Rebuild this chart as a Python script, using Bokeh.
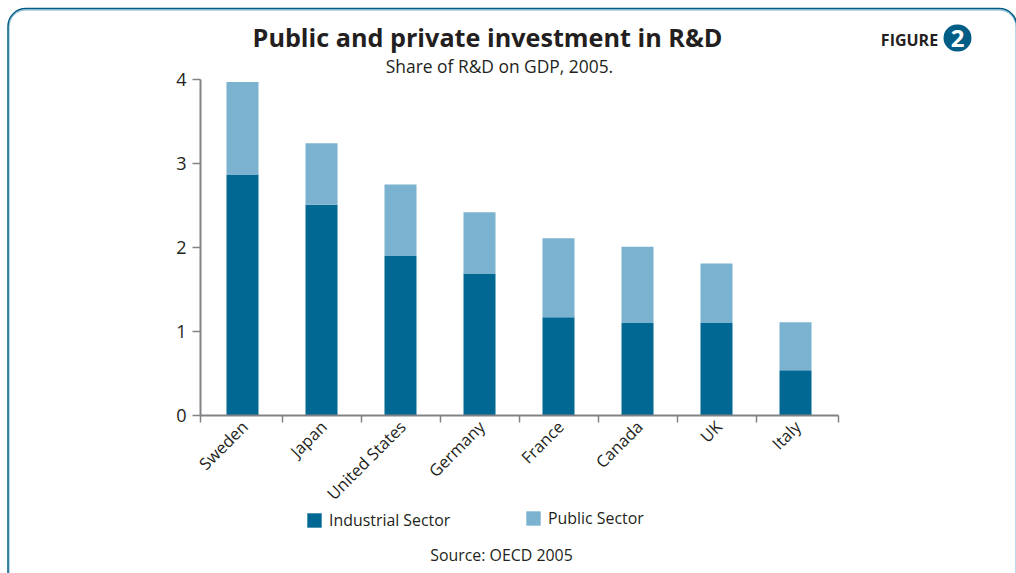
from math import pi

from bokeh.embed import file_html
from bokeh.models import (BoxAnnotation, ColumnDataSource, FixedTicker, Label,
                          Legend, LegendItem, LinearAxis, Range1d)
from bokeh.plotting import figure
from bokeh.resources import INLINE

# Share of R&D on GDP, 2005, by funding sector
countries = ["Sweden", "Japan", "United States", "Germany", "France", "Canada", "UK", "Italy"]
industrial = [2.87, 2.51, 1.90, 1.69, 1.17, 1.10, 1.10, 0.54]
public = [1.10, 0.73, 0.85, 0.73, 0.94, 0.91, 0.71, 0.57]
y_ticks = [0, 1, 2, 3, 4]

DARK = "#006892"
LIGHT = "#7bb2d0"
NAVY = "#005d85"
INK = "#231f20"
AXIS = "#808285"
FONT = "Open Sans"

W, H = 1016, 573

# The plotting frame fills the page; axes are pinned inside it at fixed data positions.
PX_PER_CATEGORY = 79
PX_PER_UNIT = 84
ORIGIN_X, ORIGIN_Y = 202.5, 415
X_START, X_END = -0.032, 8.044
LABEL_NUDGE = 0.025

centres = [i + 0.5 for i in range(len(countries))]
label_ticks = [c + LABEL_NUDGE for c in centres]
source = ColumnDataSource(dict(x=centres, industrial=industrial, public=public))

p = figure(
    width=W, height=H, output_backend="svg", toolbar_location=None,
    x_range=Range1d(-ORIGIN_X / PX_PER_CATEGORY, (W - ORIGIN_X) / PX_PER_CATEGORY),
    y_range=Range1d((ORIGIN_Y - H) / PX_PER_UNIT, ORIGIN_Y / PX_PER_UNIT),
    x_axis_location=None, y_axis_location=None,
    min_border_left=0, min_border_right=0, min_border_top=0, min_border_bottom=0,
    background_fill_color="white", border_fill_color="white",
)
p.outline_line_color = None
p.grid.visible = False

bars = p.vbar_stack(["industrial", "public"], x="x", width=32 / PX_PER_CATEGORY, source=source,
                    color=[DARK, LIGHT], line_color=None)

y_axis = LinearAxis(
    fixed_location=X_START, bounds=(0, 4), ticker=FixedTicker(ticks=y_ticks),
    axis_line_color=AXIS, axis_line_width=2,
    major_tick_line_color=AXIS, major_tick_line_width=1.5, major_tick_in=0, major_tick_out=8,
    minor_tick_line_color=None,
    major_label_text_font=FONT, major_label_text_font_size="18px",
    major_label_text_color=INK, major_label_standoff=6,
)
p.add_layout(y_axis, "left")

# Labels sit under the bars, tick marks between them
x_axis = LinearAxis(
    fixed_location=0, bounds=(X_START, X_END),
    ticker=FixedTicker(ticks=label_ticks, minor_ticks=[X_START, 1, 2, 3, 4, 5, 6, 7, X_END]),
    major_label_overrides={c: n for c, n in zip(label_ticks, countries)},
    major_label_orientation=pi / 4,
    major_label_text_font=FONT, major_label_text_font_size="16.5px",
    major_label_text_color=INK, major_label_standoff=1,
    axis_line_color=AXIS, axis_line_width=2,
    major_tick_line_color=None, major_tick_in=0, major_tick_out=0,
    minor_tick_line_color=AXIS, minor_tick_line_width=1.5, minor_tick_in=0, minor_tick_out=7,
)
p.add_layout(x_axis, "below")


def legend_for(renderer, text, x, y):
    legend = Legend(
        items=[LegendItem(label=text, renderers=[renderer])],
        location=(x, H - y - 16), padding=0, margin=0, spacing=0,
        glyph_width=18, glyph_height=18, label_standoff=6,
        label_text_font=FONT, label_text_font_size="15.9px", label_text_color=INK,
        label_height=16, background_fill_alpha=0, border_line_color=None,
    )
    p.add_layout(legend, "center")


legend_for(bars[0], "Industrial Sector", 305, 515)
legend_for(bars[1], "Public Sector", 524, 513)


def caption(text, x, y, size, **kw):
    # x, y are page pixels from the top-left corner
    p.add_layout(Label(x=x, y=H - y, x_units="screen", y_units="screen",
                       text=text, text_font=FONT, text_font_size=size,
                       text_color=kw.pop("color", INK), text_align=kw.pop("align", "center"),
                       text_baseline="middle", **kw))


def page_box(left, right, top, bottom, **kw):
    p.add_layout(BoxAnnotation(left=left, right=right, top=top, bottom=bottom,
                               left_units="canvas", right_units="canvas",
                               top_units="canvas", bottom_units="canvas",
                               line_alpha=1, **kw))


# Rounded panel outline running off the page on the right and bottom
page_box(8.5, W - 0.5, 9.5, H + 25, fill_alpha=0, line_color=LIGHT, line_width=1, border_radius=17)
page_box(7.5, W + 0.5, 8, H + 25, fill_alpha=0, line_color=NAVY, line_width=1.5, border_radius=18)

# Figure number badge
page_box(943, 971, 24, 51, fill_color=NAVY, fill_alpha=1, line_color=None, border_radius=14)

caption("Public and private investment in R&D", 487, 36.5, "25.2px", text_font_style="bold")
caption("Share of R&D on GDP, 2005.", 499, 65, "17.4px")
caption("Source: OECD 2005", 501, 554.5, "15.9px")
caption("FIGURE", 909, 39, "16px", text_font_style="bold")
caption("2", 957, 37.5, "24px", text_font_style="bold", color="white")

open("out.html", "w").write(file_html(p, INLINE))
